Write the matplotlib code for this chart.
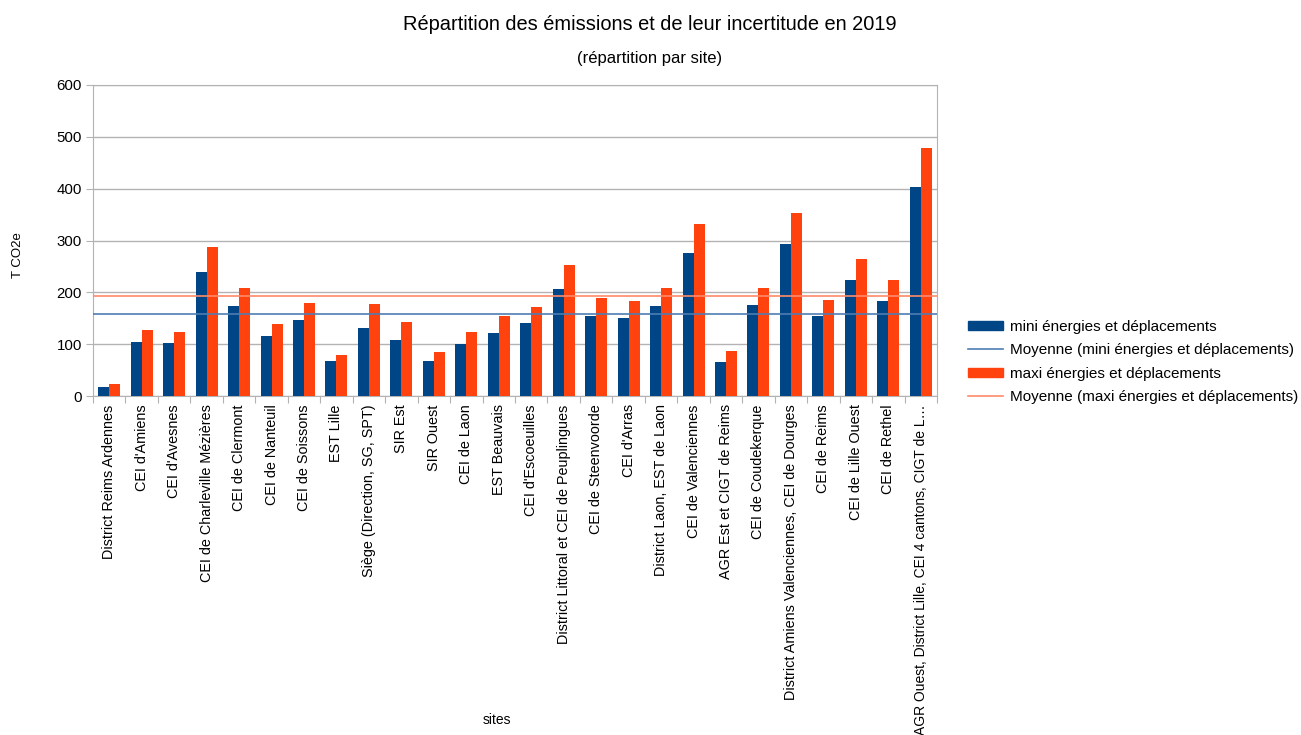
import numpy as np
import matplotlib.pyplot as plt
from matplotlib.patches import Patch
from matplotlib.lines import Line2D

plt.rcParams['font.family'] = ['Liberation Sans', 'DejaVu Sans']

sites = ["District Reims Ardennes", "CEI d'Amiens", "CEI d'Avesnes", "CEI de Charleville Mézières",
         "CEI de Clermont", "CEI de Nanteuil", "CEI de Soissons", "EST Lille",
         "Siège (Direction, SG, SPT)", "SIR Est", "SIR Ouest", "CEI de Laon", "EST Beauvais",
         "CEI d'Escoeuilles", "District Littoral et CEI de Peuplingues", "CEI de Steenvoorde",
         "CEI d'Arras", "District Laon, EST de Laon", "CEI de Valenciennes",
         "AGR Est et CIGT de Reims", "CEI de Coudekerque",
         "District Amiens Valenciennes, CEI de Dourges", "CEI de Reims", "CEI de Lille Ouest",
         "CEI de Rethel", "AGR Ouest, District Lille, CEI 4 cantons, CIGT de L…"]

mini = [18, 105, 103, 240, 173, 115, 147, 67, 132, 109, 67, 101, 122, 140, 207, 155, 151, 173,
        275, 65, 175, 294, 155, 223, 184, 404]
maxi = [24, 128, 124, 288, 209, 138, 180, 80, 178, 142, 84, 124, 154, 171, 252, 190, 184, 209,
        331, 86, 209, 354, 186, 265, 223, 478]

c_mini = '#004586'
c_maxi = '#ff420e'
c_mini_mean = '#4f7db3'
c_maxi_mean = '#ff8a6a'

fig = plt.figure(figsize=(13.01, 7.35), dpi=100)
ax = fig.add_axes([93 / 1301, 1 - 396 / 735, (937 - 93) / 1301, (396 - 85) / 735])

x = np.arange(len(sites))
w = 0.34
ax.bar(x - w / 2, mini, w, color=c_mini, zorder=3)
ax.bar(x + w / 2, maxi, w, color=c_maxi, zorder=3)
ax.axhline(np.mean(mini), color=c_mini_mean, lw=1.2, zorder=4)
ax.axhline(np.mean(maxi), color=c_maxi_mean, lw=1.2, zorder=4)

ax.set_xlim(-0.5, len(sites) - 0.5)
ax.set_ylim(0, 600)
ax.set_yticks(range(0, 601, 100))
ax.yaxis.grid(True, color='#b3b3b3', lw=1)
ax.set_axisbelow(True)
for s in ax.spines.values():
    s.set_color('#b3b3b3')

ax.set_xticks(np.arange(-0.5, len(sites), 1))
ax.set_xticklabels([])
ax.set_xticks(x, minor=True)
ax.set_xticklabels(sites, minor=True, rotation=90, fontsize=10.4, va='top', ha='center')
ax.get_xticklabels(minor=True)[-1].set_fontsize(10.0)
ax.tick_params(axis='x', which='major', length=5, color='#b3b3b3')
ax.tick_params(axis='x', which='minor', length=0, pad=6)
ax.tick_params(axis='y', length=5, color='#b3b3b3', labelsize=10.8, pad=3)

fig.text(650 / 1301, 1 - 24 / 735, "Répartition des émissions et de leur incertitude en 2019",
         ha='center', va='center', fontsize=14.4)
fig.text(650 / 1301, 1 - 59 / 735, "(répartition par site)", ha='center', va='center', fontsize=12)
fig.text(18 / 1301, 1 - 255 / 735, "T CO2e", rotation=90, ha='center', va='center', fontsize=9.5)
fig.text(497 / 1301, 1 - 720 / 735, "sites", ha='center', va='center', fontsize=10)

handles = [Patch(color=c_mini), Line2D([], [], color=c_mini_mean, lw=1.2),
           Patch(color=c_maxi), Line2D([], [], color=c_maxi_mean, lw=1.2)]
labels = ["mini énergies et déplacements", "Moyenne (mini énergies et déplacements)",
          "maxi énergies et déplacements", "Moyenne (maxi énergies et déplacements)"]
fig.legend(handles, labels, loc='center left', bbox_to_anchor=(968 / 1301, 1 - 362 / 735),
           frameon=False, fontsize=11, handlelength=2.3, handleheight=0.55,
           handletextpad=0.45, labelspacing=0.6, borderpad=0, borderaxespad=0)

fig.savefig('out.png', dpi=100)
